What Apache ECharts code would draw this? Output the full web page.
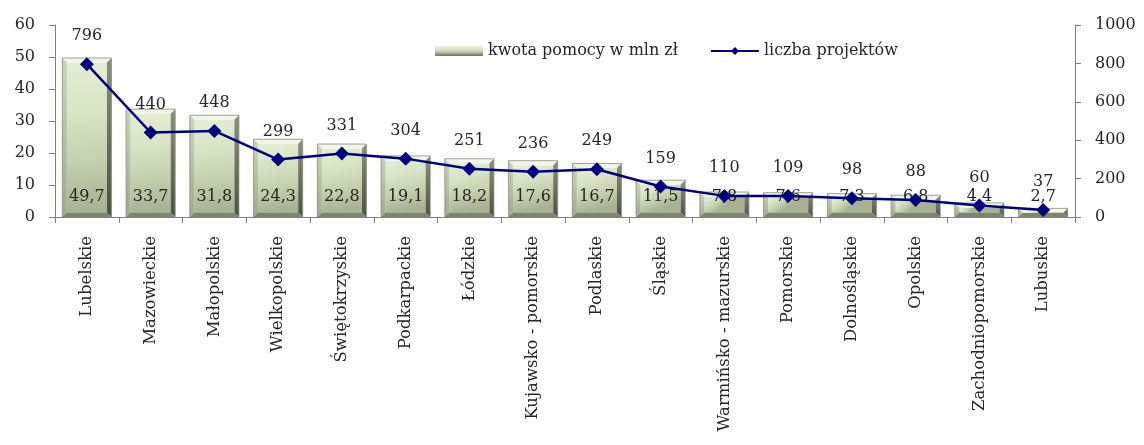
<!DOCTYPE html>
<html>
<head>
<meta charset="utf-8">
<script src="https://cdn.jsdelivr.net/npm/echarts@6/dist/echarts.min.js"></script>
<style>
  html, body { margin: 0; padding: 0; background: #fff; }
  #chart { width: 1144px; height: 445px; }
</style>
</head>
<body>
<div id="chart"></div>
<script>
// Regions (voivodeships), aid amount in mln zł and number of projects
const regions = [
  'Lubelskie', 'Mazowieckie', 'Małopolskie', 'Wielkopolskie', 'Świętokrzyskie',
  'Podkarpackie', 'Łódzkie', 'Kujawsko - pomorskie', 'Podlaskie', 'Śląskie',
  'Warmińsko - mazurskie', 'Pomorskie', 'Dolnośląskie', 'Opolskie',
  'Zachodniopomorskie', 'Lubuskie'
];
const kwotaPomocy = [49.7, 33.7, 31.8, 24.3, 22.8, 19.1, 18.2, 17.6, 16.7, 11.5, 7.8, 7.6, 7.3, 6.8, 4.4, 2.7];
const liczbaProjektow = [796, 440, 448, 299, 331, 304, 251, 236, 249, 159, 110, 109, 98, 88, 60, 37];
const leftTicks = { min: 0, max: 60, interval: 10 };
const rightTicks = { min: 0, max: 1000, interval: 200 };

const barName = 'kwota pomocy w mln zł';
const lineName = 'liczba projektów';
const FONT = 'DejaVu Serif';
const TXT = '#262626';
const AXIS = '#7f7f7f';

const fmt = v => String(v).replace('.', ',');
const lg = (x2, y2, stops) => new echarts.graphic.LinearGradient(0, 0, x2, y2,
  stops.map((c, i) => ({ offset: i / (stops.length - 1), color: c })));

// Bevelled bar: a flat face with four slanted edge facets
function renderBevelBar(params, api) {
  const idx = api.value(0);
  const val = api.value(1);
  const top = api.coord([idx, val]);
  const base = api.coord([idx, 0]);
  const bw = api.size([1, 0])[0] * 0.77;
  const l = top[0] - bw / 2, r = top[0] + bw / 2;
  const t = top[1], b = base[1];
  const h = b - t;
  const e = Math.max(1, Math.min(4.5, h / 2.2, bw / 2.2));
  const poly = (pts, fill) => ({ type: 'polygon', shape: { points: pts }, style: { fill: fill }, silent: true });
  return {
    type: 'group',
    children: [
      // face
      {
        type: 'rect',
        shape: { x: l + e, y: t + e, width: bw - 2 * e, height: Math.max(0, h - 2 * e) },
        style: { fill: lg(0.3, 1, ['#e4eed5', '#d8e4c4', '#c4cfae', '#a8b293']) }
      },
      // top facet
      poly([[l, t], [r, t], [r - e, t + e], [l + e, t + e]], '#f1f6e9'),
      // left facet
      poly([[l, t], [l + e, t + e], [l + e, b - e], [l, b]], lg(0, 1, ['#ccd5bb', '#a0a98f'])),
      // right facet
      poly([[r, t], [r, b], [r - e, b - e], [r - e, t + e]], lg(0, 1, ['#8a917c', '#4c5144'])),
      // bottom facet
      poly([[l, b], [l + e, b - e], [r - e, b - e], [r, b]], '#7d856e'),
      // thin outline
      {
        type: 'rect',
        shape: { x: l, y: t, width: bw, height: h },
        style: { fill: null, stroke: '#858d77', lineWidth: 0.8 },
        silent: true
      },
      // value label near the base
      {
        type: 'text',
        silent: true,
        z2: 10,
        style: {
          text: fmt(val),
          x: top[0],
          y: b - 12,
          align: 'center',
          verticalAlign: 'bottom',
          font: '16px "' + FONT + '"',
          fill: TXT
        }
      }
    ]
  };
}

const chart = echarts.init(document.getElementById('chart'), null, { renderer: 'canvas' });

chart.setOption({
  animation: false,
  backgroundColor: '#ffffff',
  textStyle: { fontFamily: FONT, color: TXT },
  grid: { left: 55, right: 69, top: 25, bottom: 228, containLabel: false },
  legend: {
    top: 38,
    left: 430,
    itemGap: 32,
    itemWidth: 48,
    itemHeight: 10,
    textStyle: { fontFamily: FONT, fontSize: 16, color: TXT },
    data: [
      {
        name: barName,
        icon: 'rect',
        itemStyle: { color: lg(0, 1, ['#eef4e4', '#cdd6ba', '#6b735d']) }
      },
      { name: lineName }
    ]
  },
  xAxis: {
    type: 'category',
    data: regions,
    boundaryGap: true,
    axisLine: { lineStyle: { color: AXIS, width: 1 } },
    axisTick: { show: true, alignWithLabel: false, length: 6, lineStyle: { color: AXIS } },
    axisLabel: { rotate: 90, interval: 0, margin: 19, fontFamily: FONT, fontSize: 16.5, color: TXT }
  },
  yAxis: [
    {
      type: 'value',
      min: leftTicks.min, max: leftTicks.max, interval: leftTicks.interval,
      splitLine: { show: false },
      axisLine: { show: true, lineStyle: { color: AXIS } },
      axisTick: { show: true, length: 6, lineStyle: { color: AXIS } },
      axisLabel: { margin: 20, fontFamily: FONT, fontSize: 16, color: TXT }
    },
    {
      type: 'value',
      position: 'right',
      min: rightTicks.min, max: rightTicks.max, interval: rightTicks.interval,
      splitLine: { show: false },
      axisLine: { show: true, lineStyle: { color: AXIS } },
      axisTick: { show: true, length: 6, lineStyle: { color: AXIS } },
      axisLabel: { margin: 20, fontFamily: FONT, fontSize: 16, color: TXT, formatter: v => String(v) }
    }
  ],
  series: [
    {
      name: barName,
      type: 'custom',
      yAxisIndex: 0,
      renderItem: renderBevelBar,
      encode: { x: 0, y: 1 },
      data: kwotaPomocy.map((v, i) => [i, v]),
      z: 2
    },
    {
      name: lineName,
      type: 'line',
      yAxisIndex: 1,
      data: liczbaProjektow,
      color: '#000080',
      symbol: 'diamond',
      symbolSize: 14,
      lineStyle: { color: '#000080', width: 2.5 },
      itemStyle: { color: '#000080' },
      label: {
        show: true,
        position: 'top',
        distance: 13,
        fontFamily: FONT,
        fontSize: 16,
        color: TXT
      },
      z: 5
    }
  ]
});
</script>
</body>
</html>
